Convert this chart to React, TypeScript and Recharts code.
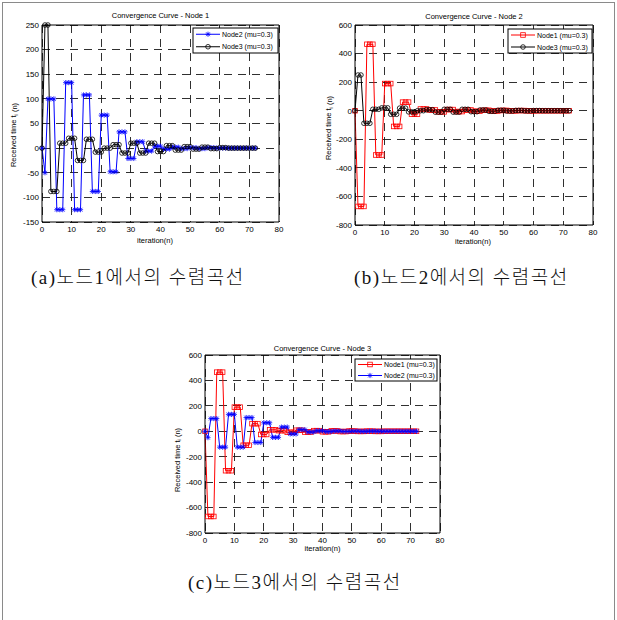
import React from 'react';
import { LineChart, Line, XAxis, YAxis, CartesianGrid, ReferenceLine } from 'recharts';

// iteration index n
const iterations: number[] = Array.from({ length: 73 }, (_, i) => i);

// received time estimates t_i(n) of each neighbour node (mu = 0.3)
const node1Times = [
  0,
  -670, -670, -670,
  465, 465, 465,
  -310, -310, -310,
  190, 190, 190,
  -110, -110, -110,
  60, 60, 60,
  -25, -25, -25,
  12, 12, 12,
  5, 5, 5,
  -8, -8, -8,
  8, 8, 8,
  -6, -6, -6,
  5, 5, 5,
  -4, -4, -4,
  3, 3, 3,
  -2, -2, -2,
  2, 2, 2,
  -1, -1, -1,
  1, 1, 1,
  -1, -1, -1,
  0, 0, 0,
  0, 0, 0,
  0, 0, 0,
  0, 0, 0,
];

const node2Times = [
  0,
  -50,
  100, 100, 100,
  -125, -125, -125,
  133, 133, 133,
  -125, -125, -125,
  108, 108, 108,
  -88, -88, -88,
  67, 67, 67,
  -48, -48, -48,
  33, 33, 33,
  -21, -21, -21,
  13, 13, 13,
  -6, -6, -6,
  4, 4, 4,
  -2, -2, -2,
  2, 2, 2,
  -1, -1, -1,
  1, 1, 1,
  -1, -1, -1,
  1, 1, 1,
  0, 0, 0,
  0, 0, 0,
  0, 0, 0,
  0, 0, 0,
  0, 0,
];

const node3Times = [
  0,
  250, 250,
  -88, -88, -88,
  10, 10, 10,
  20, 20, 20,
  -25, -25, -25,
  18, 18, 18,
  -8, -8, -8,
  0, 0, 0,
  7, 7, 7,
  -10, -10, -10,
  10, 10, 10,
  -10, -10, -10,
  10, 10, 10,
  -7, -7, -7,
  5, 5, 5,
  -4, -4, -4,
  3, 3, 3,
  -2, -2, -2,
  2, 2, 2,
  -1, -1, -1,
  1, 1, 1,
  0, 0, 0,
  0, 0, 0,
  0, 0, 0,
  0,
];

const xTicks = [0, 10, 20, 30, 40, 50, 60, 70, 80];
const yTicksNarrow = [-150, -100, -50, 0, 50, 100, 150, 200, 250];
const yTicksWide = [-800, -600, -400, -200, 0, 200, 400, 600];

const rows = iterations.map((n, i) => ({
  n,
  node1: node1Times[i],
  node2: node2Times[i],
  node3: node3Times[i],
}));

const FONT = '"Liberation Sans", Arial, sans-serif';

type MarkerKind = 'star' | 'circle' | 'square';
interface SeriesDef {
  key: 'node1' | 'node2' | 'node3';
  name: string;
  color: string;
  marker: MarkerKind;
}

const NODE1: SeriesDef = { key: 'node1', name: 'Node1 (mu=0.3)', color: '#ff0000', marker: 'square' };
const NODE2: SeriesDef = { key: 'node2', name: 'Node2 (mu=0.3)', color: '#0000ff', marker: 'star' };
const NODE3: SeriesDef = { key: 'node3', name: 'Node3 (mu=0.3)', color: '#000000', marker: 'circle' };

const Marker = ({ cx, cy, kind, color }: { cx?: number; cy?: number; kind: MarkerKind; color: string }) => {
  if (cx == null || cy == null) return null;
  if (kind === 'circle') {
    return <circle cx={cx} cy={cy} r={2.3} fill="none" stroke={color} strokeWidth={0.8} />;
  }
  if (kind === 'square') {
    return <rect x={cx - 2.3} y={cy - 2.3} width={4.6} height={4.6} fill="none" stroke={color} strokeWidth={0.8} />;
  }
  const s = 2.6;
  const d = 1.9;
  return (
    <g stroke={color} strokeWidth={0.8}>
      <line x1={cx - s} y1={cy} x2={cx + s} y2={cy} />
      <line x1={cx} y1={cy - s} x2={cx} y2={cy + s} />
      <line x1={cx - d} y1={cy - d} x2={cx + d} y2={cy + d} />
      <line x1={cx - d} y1={cy + d} x2={cx + d} y2={cy - d} />
    </g>
  );
};

interface PanelProps {
  title: string;
  plotLeft: number;
  plotTop: number;
  plotW: number;
  plotH: number;
  yDomain: [number, number];
  yTicks: number[];
  series: SeriesDef[];
  titleY: number;
  xLabelX: number;
  xLabelY: number;
  yLabelX: number;
  yLabelY: number;
  legendX: number;
  legendY: number;
  legendW: number;
  legendH: number;
}

const AXIS_W = 45;
const AXIS_H = 30;
const PAD_T = 12;
const PAD_R = 10;

const Panel: React.FC<PanelProps> = (p) => (
  <div style={{ position: 'absolute', left: p.plotLeft - AXIS_W, top: p.plotTop - PAD_T }}>
    <LineChart
      width={AXIS_W + p.plotW + PAD_R}
      height={PAD_T + p.plotH + AXIS_H}
      data={rows}
      margin={{ top: PAD_T, right: PAD_R, bottom: 0, left: 0 }}
    >
      <CartesianGrid stroke="#1a1a1a" strokeWidth={0.9} strokeDasharray="8 6" shapeRendering="crispEdges" />
      <XAxis
        dataKey="n"
        type="number"
        domain={[0, 80]}
        ticks={xTicks}
        interval={0}
        height={AXIS_H}
        tickLine={false}
        tickSize={2}
        tickMargin={2}
        axisLine={{ stroke: '#000' }}
        tick={{ fontSize: 8, fill: '#000', fontFamily: FONT }}
      />
      <YAxis
        type="number"
        domain={p.yDomain}
        ticks={p.yTicks}
        interval={0}
        width={AXIS_W}
        tickLine={false}
        tickSize={2}
        tickMargin={1}
        axisLine={{ stroke: '#000' }}
        tick={{ fontSize: 8, fill: '#000', fontFamily: FONT }}
      />
      <ReferenceLine y={p.yDomain[1]} stroke="#000" />
      <ReferenceLine x={80} stroke="#000" />
      {p.series.map((s) => (
        <Line
          key={s.key}
          type="linear"
          dataKey={s.key}
          stroke={s.color}
          strokeWidth={1}
          isAnimationActive={false}
          dot={(d: any) => <Marker key={`${s.key}-${d.index}`} cx={d.cx} cy={d.cy} kind={s.marker} color={s.color} />}
          activeDot={false}
        />
      ))}
    </LineChart>
  </div>
);

const PanelText: React.FC<PanelProps> = (p) => (
  <g fontFamily={FONT} fill="#000">
    <text x={p.plotLeft + p.plotW / 2} y={p.titleY} fontSize={7.5} textAnchor="middle" dominantBaseline="central">
      {p.title}
    </text>
    <text x={p.xLabelX} y={p.xLabelY} fontSize={7.5} textAnchor="middle" dominantBaseline="central">
      iteration(n)
    </text>
    <text
      x={p.yLabelX}
      y={p.yLabelY}
      fontSize={7.5}
      textAnchor="middle"
      dominantBaseline="central"
      transform={`rotate(-90 ${p.yLabelX} ${p.yLabelY})`}
    >
      Received time t<tspan fontSize={5.5} dy={2}>i</tspan>
      <tspan dy={-2}> (n)</tspan>
    </text>
    <rect x={p.legendX} y={p.legendY} width={p.legendW} height={p.legendH} fill="#fff" stroke="#000" strokeWidth={1} />
    {p.series.map((s, i) => {
      const rowY = p.legendY + (p.legendH / 4) * (1 + 2 * i);
      const x0 = p.legendX + 3;
      const x1 = p.legendX + 27;
      return (
        <g key={s.key}>
          <line x1={x0} y1={rowY} x2={x1} y2={rowY} stroke={s.color} strokeWidth={1} />
          <Marker cx={(x0 + x1) / 2} cy={rowY} kind={s.marker} color={s.color} />
          <text x={p.legendX + 29} y={rowY} fontSize={7} dominantBaseline="central">
            {s.name}
          </text>
        </g>
      );
    })}
  </g>
);

const panels: PanelProps[] = [
  {
    title: 'Convergence Curve - Node 1',
    plotLeft: 42, plotTop: 25, plotW: 237, plotH: 197,
    yDomain: [-150, 250], yTicks: yTicksNarrow, series: [NODE2, NODE3],
    titleY: 15, xLabelX: 155, xLabelY: 240, yLabelX: 13.5, yLabelY: 135,
    legendX: 193, legendY: 28, legendW: 85, legendH: 25,
  },
  {
    title: 'Convergence Curve - Node 2',
    plotLeft: 355, plotTop: 25, plotW: 238, plotH: 200,
    yDomain: [-800, 600], yTicks: yTicksWide, series: [NODE1, NODE3],
    titleY: 16, xLabelX: 473, xLabelY: 241, yLabelX: 328.5, yLabelY: 128,
    legendX: 508, legendY: 29, legendW: 84, legendH: 24,
  },
  {
    title: 'Convergence Curve - Node 3',
    plotLeft: 205, plotTop: 355, plotW: 235, plotH: 178,
    yDomain: [-800, 600], yTicks: yTicksWide, series: [NODE1, NODE2],
    titleY: 348, xLabelX: 322.5, xLabelY: 548, yLabelX: 177, yLabelY: 460,
    legendX: 355, legendY: 359, legendW: 82, legendH: 22,
  },
];

const captions = [
  { label: '(a)', node: '1', left: 31, top: 267 },
  { label: '(b)', node: '2', left: 354, top: 267 },
  { label: '(c)', node: '3', left: 188, top: 572 },
];

const App: React.FC = () => (
  <div style={{ position: 'absolute', left: 0, top: 0, width: 617, height: 620, background: '#fff', overflow: 'hidden' }}>
    <div
      style={{
        position: 'absolute', left: 2, top: 2, width: 611, height: 630,
        borderLeft: '1px solid #8a8a8a', borderTop: '1px solid #8a8a8a', borderRight: '1px solid #8a8a8a',
      }}
    />
    {panels.map((p) => (
      <Panel key={p.title} {...p} />
    ))}
    <svg width={617} height={620} style={{ position: 'absolute', left: 0, top: 0, pointerEvents: 'none' }}>
      {panels.map((p) => (
        <PanelText key={p.title} {...p} />
      ))}
    </svg>
    {captions.map((c) => (
      <div
        key={c.label}
        style={{
          position: 'absolute', left: c.left, top: c.top, whiteSpace: 'nowrap',
          fontSize: 19, lineHeight: '22px', letterSpacing: 1.5, color: '#111', fontWeight: 300,
          fontFamily: '"Liberation Serif", "Noto Sans CJK KR", serif',
        }}
      >
        {c.label}노드{c.node}에서의 수렴곡선
      </div>
    ))}
  </div>
);

export default App;
